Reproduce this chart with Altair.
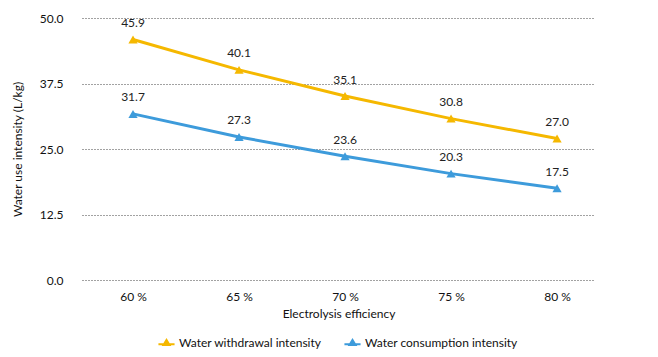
import altair as alt
import pandas as pd

efficiency = [60, 65, 70, 75, 80]
withdrawal = [45.9, 40.1, 35.1, 30.8, 27.0]
consumption = [31.7, 27.3, 23.6, 20.3, 17.5]
series_names = ["Water withdrawal intensity", "Water consumption intensity"]
colors = ["#F5B800", "#3D9BDB"]
y_ticks = [0, 12.5, 25, 37.5, 50]

rows = []
for e, w, c in zip(efficiency, withdrawal, consumption):
    rows.append({"eff": e, "value": w, "series": series_names[0]})
    rows.append({"eff": e, "value": c, "series": series_names[1]})
df = pd.DataFrame(rows)

FONT = "Lato"
FS = 12

x_enc = alt.X(
    "eff:Q",
    scale=alt.Scale(domain=[57.594, 81.79], zero=False, nice=False),
    axis=alt.Axis(
        values=efficiency,
        labelExpr="datum.value + ' %'",
        grid=False,
        domain=False,
        ticks=False,
        labelPadding=11,
        title="Electrolysis efficiency",
        titlePadding=6,
    ),
)
y_enc = alt.Y(
    "value:Q",
    scale=alt.Scale(domain=[0, 50], nice=False),
    axis=alt.Axis(
        values=y_ticks,
        format=".1f",
        grid=True,
        gridDash=[1, 2],
        gridColor="#444444",
        gridWidth=1,
        domain=False,
        ticks=False,
        labelPadding=19,
        title="Water use intensity (L/kg)",
        titlePadding=15,
    ),
)
color_scale = alt.Scale(domain=series_names, range=colors)
legend = alt.Legend(
    orient="none",
    legendX=76,
    legendY=316,
    direction="horizontal",
    title=None,
    symbolType="M-1,0.05 H1 V0.3 H-1 Z M-0.6,0.4 L0,-0.6 L0.6,0.4 Z",
    symbolSize=260,
    symbolStrokeWidth=0,
    labelFontSize=FS,
    labelFont=FONT,
    labelColor="#111111",
    columnPadding=22,
)
color_enc = alt.Color("series:N", scale=color_scale, sort=series_names, legend=legend)

base = alt.Chart(df)

lines = base.mark_line(strokeWidth=3).encode(
    x=x_enc,
    y=y_enc,
    color=color_enc,
)

points = base.mark_point(shape="triangle-up", filled=True, size=85, opacity=1).encode(
    x=x_enc,
    y=y_enc,
    color=color_enc,
)

labels = base.mark_text(
    baseline="alphabetic", dy=-12.5, fontSize=FS, font=FONT, color="#222222"
).encode(
    x=x_enc,
    y=y_enc,
    text=alt.Text("value:Q", format=".1f"),
)

chart = (
    alt.layer(lines, points, labels)
    .properties(
        width=513,
        height=262,
        autosize=alt.AutoSizeParams(type="none"),
        padding={"left": 74, "top": 10, "right": 55, "bottom": 78},
    )
    .configure_view(stroke=None)
    .configure_axis(
        labelFont=FONT,
        titleFont=FONT,
        labelFontSize=FS,
        titleFontSize=FS,
        labelColor="#111111",
        titleColor="#111111",
        titleFontWeight="normal",
    )
)

chart.save("out.html", embed_options={"renderer": "svg", "actions": False})
